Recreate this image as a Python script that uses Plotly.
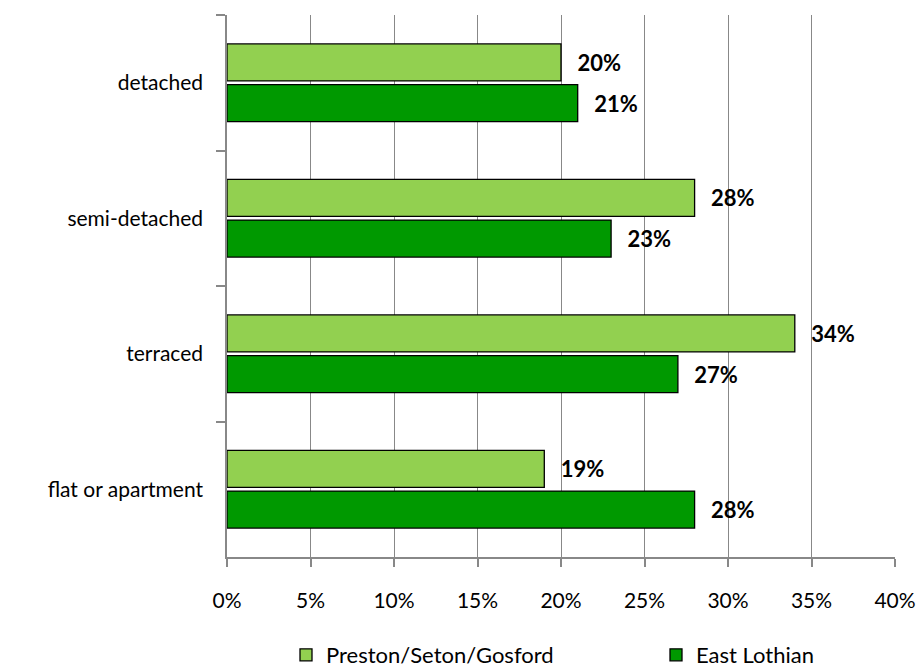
import plotly.graph_objects as go

# ── Data ──────────────────────────────────────────────────────────────────────
CATEGORIES = ["detached", "semi-detached", "terraced", "flat or apartment"]
PRESTON = [0.20, 0.28, 0.34, 0.19]
EAST_LOTHIAN = [0.21, 0.23, 0.27, 0.28]
X_TICKS = [0, 0.05, 0.10, 0.15, 0.20, 0.25, 0.30, 0.35, 0.40]
X_TICK_TEXT = ["0%", "5%", "10%", "15%", "20%", "25%", "30%", "35%", "40%"]

# ── Palette ───────────────────────────────────────────────────────────────────
LIGHT = "#92D050"
DARK = "#009900"
GRID = "#888888"
FONT = "Lato, 'Open Sans', sans-serif"

W, H = 918, 668


def _pct(vals):
    return ["\u00a0\u00a0\u2009" + f"{round(v * 100)}%" for v in vals]


series = [("Preston/Seton/Gosford", PRESTON, LIGHT, "legend"),
          ("East Lothian", EAST_LOTHIAN, DARK, "legend2")]

fig = go.Figure()
for name, vals, col, leg in series:
    fig.add_trace(go.Bar(
        y=CATEGORIES, x=vals, name=name, orientation="h", legend=leg,
        marker=dict(color=col, line=dict(color="#000000", width=1.3)),
        text=_pct(vals), textposition="outside", cliponaxis=False,
        textfont=dict(family=FONT, size=22, color="#000000", weight="bold"),
    ))

leg_common = dict(orientation="h", xref="container", yref="container",
                  xanchor="left", yanchor="middle", y=1 - 655 / H,
                  font=dict(size=22), bgcolor="rgba(0,0,0,0)")
fig.update_layout(
    width=W, height=H,
    paper_bgcolor="white", plot_bgcolor="white",
    font=dict(family=FONT, size=21, color="#000000"),
    margin=dict(l=227, r=23, t=15, b=H - 557),
    barmode="group", bargap=0.40, bargroupgap=0.09,
    showlegend=True,
    legend=dict(x=286 / W, **leg_common),
    legend2=dict(x=656 / W, **leg_common),
)
fig.update_xaxes(
    range=[0, 0.40], tickvals=X_TICKS, ticktext=X_TICK_TEXT,
    showgrid=True, gridcolor=GRID, gridwidth=1,
    showline=True, linecolor=GRID, linewidth=1.5,
    ticks="outside", ticklen=8, tickcolor=GRID, tickwidth=1.5,
    ticklabelstandoff=16, zeroline=False, automargin=False,
)
fig.update_yaxes(
    categoryorder="array", categoryarray=CATEGORIES, autorange="reversed",
    showgrid=False, showline=True, linecolor=GRID, linewidth=1.5,
    ticks="outside", ticklen=9, tickcolor=GRID, tickwidth=1.5,
    tickson="boundaries", ticklabelstandoff=18, automargin=False,
)

# drop the default 8px body margin so the figure sits at the page's top-left
fig.write_html("out.html", config={"displayModeBar": False},
               post_script="document.body.style.margin='0';"
                           "document.body.style.overflow='hidden';")
